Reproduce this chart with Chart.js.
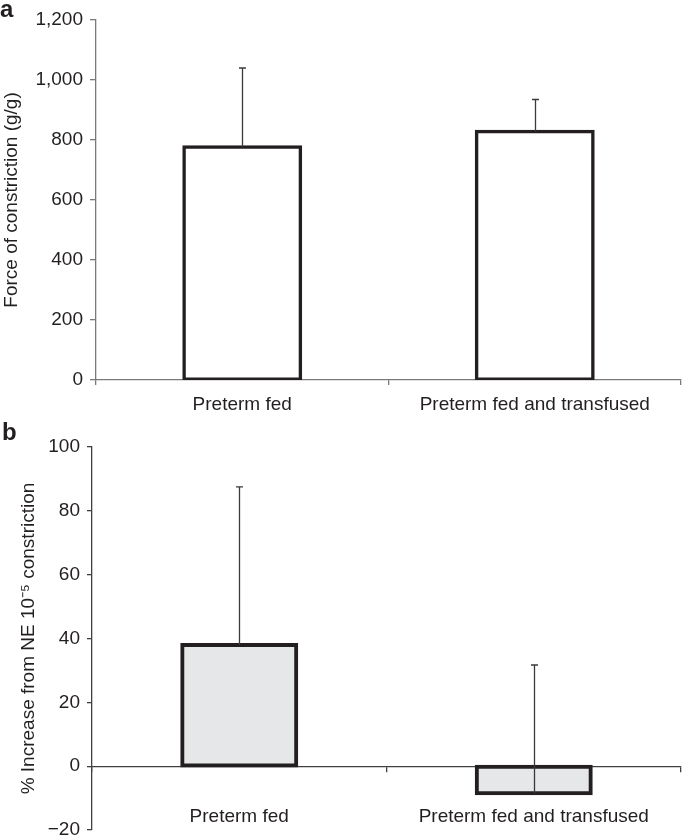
<!DOCTYPE html>
<html>
<head>
<meta charset="utf-8">
<script src="https://cdn.jsdelivr.net/npm/chart.js@4.4.1/dist/chart.umd.min.js"></script>
<style>
  body { margin: 0; background: #fff; }
  #wrap { position: relative; width: 685px; height: 837px; font-family: "Liberation Sans", Arial, sans-serif; }
  .panel { position: absolute; left: 0; width: 685px; }
  .tag { position: absolute; font-weight: bold; font-size: 24px; line-height: 24px; color: #231f20; }
</style>
</head>
<body>
<div id="wrap">
  <div class="panel" style="top:0;height:420px"><canvas id="chart_a"></canvas></div>
  <div class="panel" style="top:420px;height:417px"><canvas id="chart_b"></canvas></div>
  <div class="tag" style="left:0;top:-3px">a</div>
  <div class="tag" style="left:2px;top:420px">b</div>
</div>
<script>
(function () {
  'use strict';

  // カテゴリ
  const groups = ['Preterm fed', 'Preterm fed and transfused'];

  // a: force of constriction (g/g)
  const forceMean = [777, 828];
  const forceErr = [263, 107];
  const forceTicks = [0, 200, 400, 600, 800, 1000, 1200];

  // b: % increase from NE 10^-5 constriction
  const increaseMean = [38, -8.5];
  const increaseErr = [49.5, 40.2];
  const increaseTicks = [-20, 0, 20, 40, 60, 80, 100];

  const ink = '#231f20';
  const font = { family: '"Liberation Sans", Arial, sans-serif', size: 19 };

  Chart.defaults.animation = false;

  // エラーバー (上方向のみ)
  const errorBars = {
    id: 'errorBars',
    afterDatasetsDraw(chart, args, opts) {
      const ctx = chart.ctx;
      const ys = chart.scales.y;
      const vals = chart.data.datasets[0].data;
      ctx.save();
      ctx.strokeStyle = '#3a3a3a';
      ctx.lineWidth = 1.3;
      chart.getDatasetMeta(0).data.forEach((bar, i) => {
        const top = ys.getPixelForValue(vals[i] + opts.errors[i]);
        const x = Math.round(bar.x) + 0.5;
        ctx.beginPath();
        ctx.moveTo(x, bar.y);
        ctx.lineTo(x, top);
        ctx.moveTo(x - 3.5, top);
        ctx.lineTo(x + 3.5, top);
        ctx.stroke();
      });
      ctx.restore();
    }
  };

  function yTicks(list) {
    return function (scale) {
      scale.ticks = list.map(v => ({ value: v }));
    };
  }

  // 軸幅を固定、ラベルのはみ出し分は無視
  function fixWidth(w) {
    return function (s) {
      s.width = w;
      s.paddingTop = 0;
      s.paddingBottom = 0;
    };
  }

  new Chart(document.getElementById('chart_a'), {
    type: 'bar',
    data: {
      labels: groups,
      datasets: [{
        data: forceMean,
        backgroundColor: '#ffffff',
        borderColor: ink,
        borderWidth: 3.5,
        borderSkipped: false,
        inflateAmount: 1.75,
        barPercentage: 0.398,
        categoryPercentage: 1,
      }]
    },
    options: {
      responsive: true,
      maintainAspectRatio: false,
      layout: { padding: { top: 20, right: 4, bottom: 0, left: 0 } },
      plugins: {
        legend: { display: false },
        tooltip: { enabled: false },
        errorBars: { errors: forceErr },
      },
      scales: {
        x: {
          offset: true,
          grid: { offset: true, drawOnChartArea: false, tickLength: 5, color: '#7a7a7a', lineWidth: 1.3 },
          border: { color: '#7a7a7a', width: 1.3 },
          ticks: { color: ink, font: font, padding: 8, maxRotation: 0 },
          afterFit: s => { s.height = 40; },
        },
        y: {
          min: 0,
          max: 1200,
          afterBuildTicks: yTicks(forceTicks),
          ticks: { color: ink, font: font, padding: 7, callback: v => v.toLocaleString('en-US') },
          grid: { drawOnChartArea: false, tickLength: 6, color: '#7a7a7a', lineWidth: 1.3 },
          border: { color: '#7a7a7a', width: 1.3 },
          title: { display: true, text: 'Force of constriction (g/g)', color: ink, font: font, padding: { top: 0, bottom: 0 } },
          afterFit: fixWidth(96),
        }
      }
    },
    plugins: [errorBars]
  });

  new Chart(document.getElementById('chart_b'), {
    type: 'bar',
    data: {
      labels: groups,
      datasets: [{
        data: increaseMean,
        backgroundColor: '#e6e7e8',
        borderColor: ink,
        borderWidth: 4,
        borderSkipped: false,
        inflateAmount: 2,
        barPercentage: 0.387,
        categoryPercentage: 1,
      }]
    },
    options: {
      responsive: true,
      maintainAspectRatio: false,
      layout: { padding: { top: 27, right: 4, bottom: 7, left: 0 } },
      plugins: {
        legend: { display: false },
        tooltip: { enabled: false },
        errorBars: { errors: increaseErr },
      },
      scales: {
        x: {
          position: { y: 0 },
          offset: true,
          grid: { offset: true, drawOnChartArea: false, tickLength: 5, color: '#404040', lineWidth: 1.3 },
          border: { color: '#404040', width: 1.3 },
          ticks: { color: ink, font: font, padding: 34, maxRotation: 0 },
          afterFit: s => { s.paddingTop = 0; s.paddingBottom = 0; },
        },
        y: {
          min: -20,
          max: 100,
          afterBuildTicks: yTicks(increaseTicks),
          ticks: { color: ink, font: font, padding: 7, callback: v => v < 0 ? '\u2212' + Math.abs(v) : String(v) },
          grid: { drawOnChartArea: false, tickLength: 5, color: '#404040', lineWidth: 1.3 },
          border: { color: '#404040', width: 1.3 },
          title: { display: true, text: '% Increase from NE 10\u207B\u2075 constriction', color: ink, font: font, padding: { top: 17, bottom: 0 } },
          afterFit: fixWidth(92),
        }
      }
    },
    plugins: [errorBars]
  });

})();
</script>
</body>
</html>
